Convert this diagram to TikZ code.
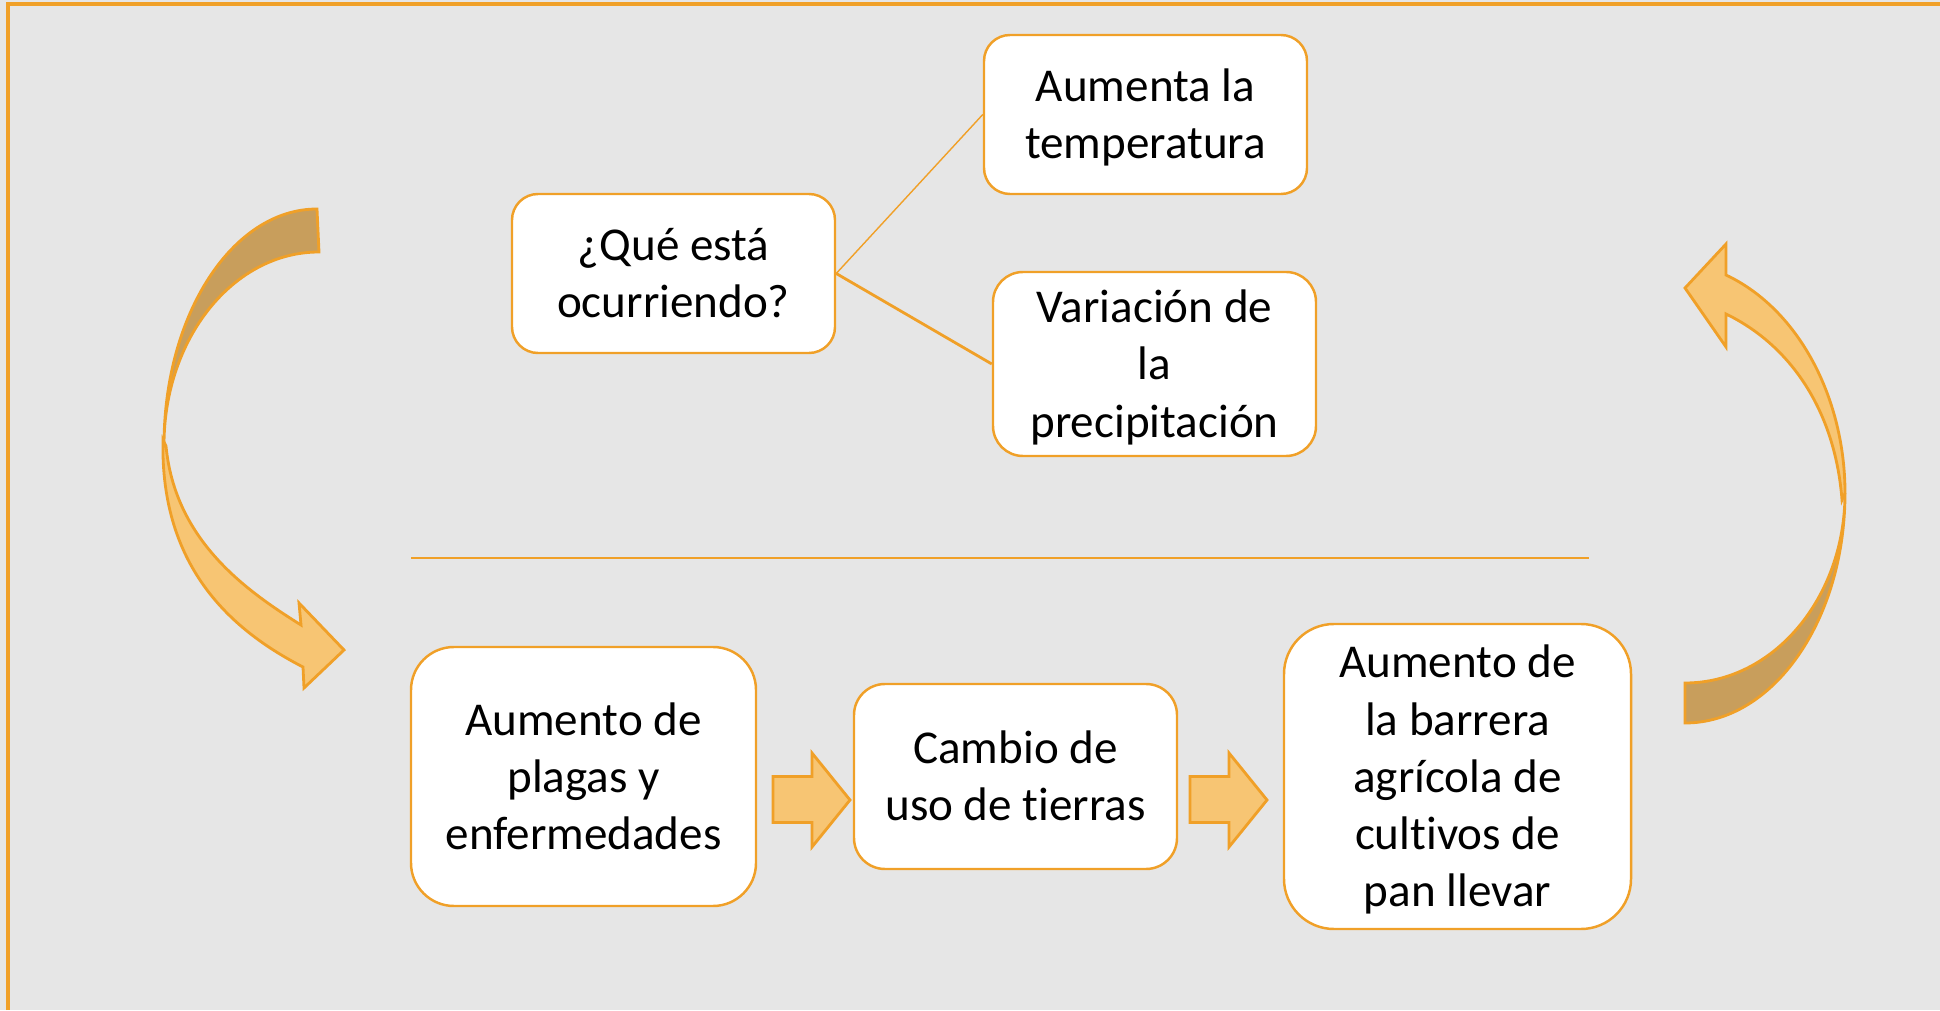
\documentclass[tikz,border=0pt]{standalone}
\usepackage{fontspec}
\setmainfont{Carlito}[Ligatures=NoCommon]

\definecolor{lineorange}{RGB}{240,160,40}
\definecolor{arrowlight}{RGB}{247,197,115}
\definecolor{arrowdark}{RGB}{200,158,92}
\definecolor{bggray}{RGB}{230,230,230}
\newcommand{\boxfont}{\fontsize{13.4}{16.3}\selectfont}
% struts for the first and last line of a box
\newcommand{\hirule}{\rule{0pt}{13pt}}
\newcommand{\lorule}{\rule[-4pt]{0pt}{4pt}}

\begin{document}
\begin{tikzpicture}[
  box/.style={draw=lineorange, fill=white, line width=0.7pt, align=center, inner sep=0pt, font=\boxfont},
  bent/.style={draw=lineorange, line width=0.8pt, line join=miter}
]
\useasboundingbox (0,0) rectangle (19.4,10.1);

% Background and frame
\fill[bggray] (0,0) rectangle (19.4,10.1);
\draw[lineorange, line width=0.9pt] (0.08,0) -- (0.08,10.06) -- (19.4,10.06);

% Top: question and what happens
\node[box, minimum width=3.23cm, minimum height=1.59cm, rounded corners=0.26cm] (que) at (6.735,7.365) {\hirule¿Qué está\\ocurriendo?\lorule};
\node[box, minimum width=3.23cm, minimum height=1.59cm, rounded corners=0.26cm] (temp) at (11.455,8.955) {\hirule Aumenta la\\temperatura\lorule};
\node[box, minimum width=3.23cm, minimum height=1.84cm, rounded corners=0.30cm] (prec) at (11.545,6.46) {\hirule Variación de\\la\\precipitación\lorule};

\draw[lineorange, line width=0.4pt] (que.east) -- (temp.west);
\draw[lineorange, line width=0.8pt] (que.east) -- (prec.west);

% Separator
\draw[lineorange, line width=0.7pt] (4.11,4.52) -- (15.89,4.52);

% Bottom: consequences
\node[box, minimum width=3.45cm, minimum height=2.59cm, rounded corners=0.43cm] (plagas) at (5.835,2.335) {\hirule Aumento de\\plagas y\\enfermedades\lorule};
\node[box, minimum width=3.23cm, minimum height=1.85cm, rounded corners=0.31cm] (cambio) at (10.155,2.335) {\hirule Cambio de\\uso de tierras\lorule};
\node[box, minimum width=3.47cm, minimum height=3.05cm, rounded corners=0.50cm] (barrera) at (14.575,2.335) {\hirule Aumento de\\la barrera\\agrícola de\\cultivos de\\pan llevar\lorule};

% Block arrows between boxes
\foreach \x in {7.73,11.90} {
  \filldraw[bent, fill=arrowlight] (\x,2.335) -- (\x+0.39,2.335) -- (\x+0.39,2.57)
    -- (\x+0.77,2.10) -- (\x+0.39,1.63) -- (\x+0.39,1.875) -- (\x,1.875) -- cycle;
}

% Left curved arrow
\filldraw[bent, fill=arrowdark] (3.17,8.01) arc[start angle=90, end angle=180, x radius=1.53, y radius=2.36]
  arc[start angle=180, end angle=90, x radius=1.55, y radius=1.93] -- cycle;
\filldraw[bent, fill=arrowlight] (1.63,5.70) .. controls (1.60,4.40) and (2.35,3.78) .. (3.03,3.43)
  -- (3.04,3.22) -- (3.44,3.60) -- (2.99,4.07) -- (3.01,3.85)
  .. controls (2.45,4.20) and (1.75,4.70) .. (1.66,5.64) -- cycle;

% Right curved arrow
\filldraw[bent, fill=arrowdark] (16.85,2.87) arc[start angle=-90, end angle=0, x radius=1.60, y radius=2.30]
  arc[start angle=0, end angle=-90, x radius=1.60, y radius=1.90] -- cycle;
\filldraw[bent, fill=arrowlight] (18.45,5.17) .. controls (18.45,6.10) and (18.00,7.00) .. (17.26,7.35)
  -- (17.26,7.66) -- (16.85,7.22) -- (17.26,6.63) -- (17.26,6.96)
  .. controls (17.90,6.65) and (18.35,6.00) .. (18.42,5.10) -- cycle;
\end{tikzpicture}
\end{document}
